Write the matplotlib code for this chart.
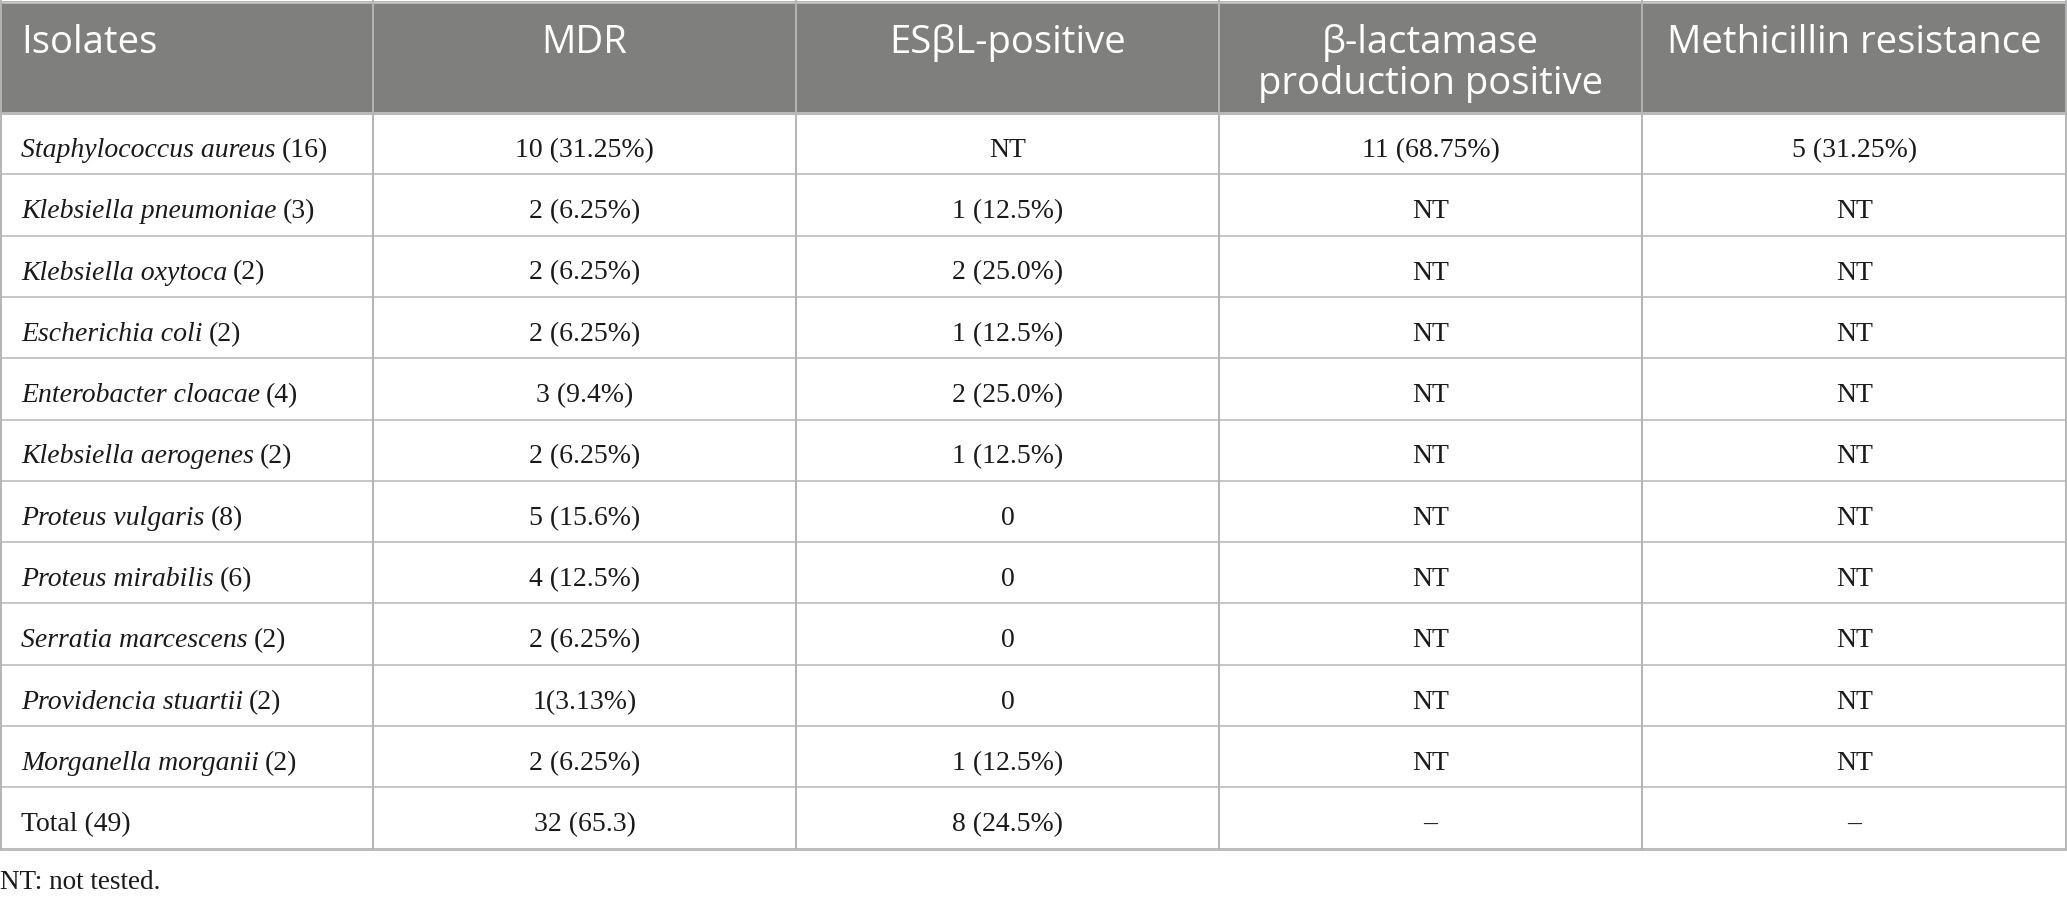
import matplotlib
matplotlib.use("Agg")
import matplotlib.pyplot as plt
from matplotlib.patches import Rectangle

# Table content
headers = ["Isolates", "MDR", "ES\u03b2L-positive",
           "\u03b2-lactamase\nproduction positive", "Methicillin resistance"]
species = ["Staphylococcus aureus", "Klebsiella pneumoniae", "Klebsiella oxytoca",
           "Escherichia coli", "Enterobacter cloacae", "Klebsiella aerogenes",
           "Proteus vulgaris", "Proteus mirabilis", "Serratia marcescens",
           "Providencia stuartii", "Morganella morganii"]
counts = ["(16)", "(3)", "(2)", "(2)", "(4)", "(2)", "(8)", "(6)", "(2)", "(2)", "(2)"]
mdr = ["10 (31.25%)", "2 (6.25%)", "2 (6.25%)", "2 (6.25%)", "3 (9.4%)", "2 (6.25%)",
       "5 (15.6%)", "4 (12.5%)", "2 (6.25%)", "1(3.13%)", "2 (6.25%)"]
esbl = ["NT", "1 (12.5%)", "2 (25.0%)", "1 (12.5%)", "2 (25.0%)", "1 (12.5%)",
        "0", "0", "0", "0", "1 (12.5%)"]
blac = ["11 (68.75%)"] + ["NT"] * 10
meth = ["5 (31.25%)"] + ["NT"] * 10
total_row = ["Total (49)", "32 (65.3)", "8 (24.5%)", "\u2013", "\u2013"]
footnote = "NT: not tested."

W, H = 2067, 903
col_w = [373, 423, 423, 423, 425]
header_h = 114
row_h = 61.3
n_rows = len(species) + 1

header_bg = "#7f807e"
line_c = "#c6c6c6"
txt_c = "#1a1a1a"
serif = ["Liberation Serif", "DejaVu Serif"]
sans = ["Open Sans", "DejaVu Sans"]

fig = plt.figure(figsize=(W / 100, H / 100), dpi=100)
ax = fig.add_axes([0, 0, 1, 1])
ax.set_xlim(0, W)
ax.set_ylim(H, 0)
ax.axis("off")

xs = [0]
for w in col_w:
    xs.append(xs[-1] + w)
table_bottom = header_h + n_rows * row_h

# header background
ax.add_patch(Rectangle((0, 2), W, header_h - 2, color=header_bg, lw=0))

# grid lines
ax.plot([0, W], [2.5, 2.5], color="#c8c8c8", lw=1.8)
ax.plot([0, W], [header_h, header_h], color="#b8b8b8", lw=2.2)
for i in range(1, n_rows):
    y = header_h + i * row_h
    ax.plot([0, W], [y, y], color=line_c, lw=1.4)
ax.plot([0, W], [table_bottom, table_bottom], color="#bcbcbc", lw=2.2)
for i, x in enumerate(xs):
    x = min(max(x, 0.7), W - 0.7)
    ax.plot([x, x], [2, table_bottom], color="#b4b4b4", lw=1.4)

# header text, one line at a time
head_fs = 27.5
for j, h in enumerate(headers):
    for k, line in enumerate(h.split("\n")):
        yb = 53 + k * 41
        if j == 0:
            ax.text(xs[0] + 21, yb, line, color="white", fontsize=head_fs, family=sans,
                    ha="left", va="baseline")
        else:
            ax.text((xs[j] + xs[j + 1]) / 2, yb, line, color="white", fontsize=head_fs,
                    family=sans, ha="center", va="baseline")

fig.canvas.draw()
renderer = fig.canvas.get_renderer()

body_fs = 20
rows = [[species[i], mdr[i], esbl[i], blac[i], meth[i]] for i in range(len(species))]
for i, r in enumerate(rows):
    yb = header_h + i * row_h + 43
    t = ax.text(xs[0] + 21, yb, r[0], fontsize=body_fs, family=serif, style="italic",
                ha="left", va="baseline", color=txt_c)
    bb = t.get_window_extent(renderer)
    ax.text(bb.x1 + 6, yb, counts[i], fontsize=body_fs, family=serif,
            ha="left", va="baseline", color=txt_c)
    for j in range(1, 5):
        ax.text((xs[j] + xs[j + 1]) / 2, yb, r[j], fontsize=body_fs, family=serif,
                ha="center", va="baseline", color=txt_c)

yb = header_h + (n_rows - 1) * row_h + 43
for j, v in enumerate(total_row):
    if j == 0:
        ax.text(xs[0] + 21, yb, v, fontsize=body_fs, family=serif, ha="left",
                va="baseline", color=txt_c)
    else:
        ax.text((xs[j] + xs[j + 1]) / 2, yb, v, fontsize=body_fs, family=serif,
                ha="center", va="baseline", color=txt_c)

ax.text(0, 889, footnote, fontsize=19.5, family=serif, ha="left", va="baseline", color=txt_c)

fig.savefig("out.png", dpi=100)
